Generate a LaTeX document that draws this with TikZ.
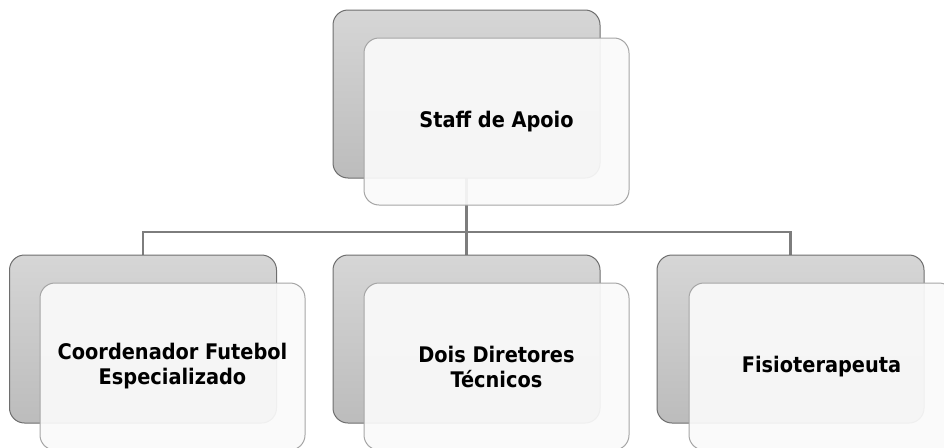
\documentclass[tikz,border=0pt]{standalone}
\usepackage{fontspec}
\setmainfont{DejaVu Sans Condensed}
\definecolor{backtop}{RGB}{214,214,214}
\definecolor{backbot}{RGB}{188,188,188}
\definecolor{backline}{RGB}{110,110,110}
\definecolor{frontfill}{RGB}{250,250,250}
\definecolor{frontline}{RGB}{165,165,165}
\definecolor{linkgray}{RGB}{125,125,125}
\tikzset{
	backbox/.style={draw=backline, line width=1pt, rounded corners=15pt,
		top color=backtop, bottom color=backbot,
		minimum width=267pt, minimum height=168pt, inner sep=0pt},
	frontbox/.style={draw=frontline, line width=1pt, rounded corners=15pt,
		fill=frontfill, fill opacity=.92, text opacity=1,
		minimum width=265pt, minimum height=167pt, inner sep=0pt,
		align=center, font=\fontsize{21.5}{25}\selectfont\bfseries},
	link/.style={draw=linkgray, line width=2.2pt}
}
\begin{document}
\begin{tikzpicture}[x=1pt,y=-1pt]
	\useasboundingbox (0,0) rectangle (944,447);
	\clip (0,0) rectangle (944,447);

	% connectors first, the boxes sit on them
	\coordinate (bus) at (466.5,232);
	\coordinate (topfoot) at (466.5,178);
	\draw[link] (topfoot) -- (bus);
	\draw[link] (143,255) |- (bus) -| (790.5,255);
	\draw[link] (bus) -- (466.5,255);

	% top
	\node[backbox] (topback) at (466.5,94) {};
	\node[frontbox] (topfront) at (496.5,121.5) {Staff de Apoio};

	% bottom row
	\node[backbox] (leftback) at (143,339) {};
	\node[frontbox] (leftfront) at (172.5,366.5) {Coordenador Futebol\\Especializado};

	\node[backbox] (midback) at (466.5,339) {};
	\node[frontbox] (midfront) at (496.5,366.5) {Dois Diretores\\Técnicos};

	\node[backbox] (rightback) at (790.5,339) {};
	\node[frontbox] (rightfront) at (821.5,366.5) {Fisioterapeuta};
\end{tikzpicture}
\end{document}
